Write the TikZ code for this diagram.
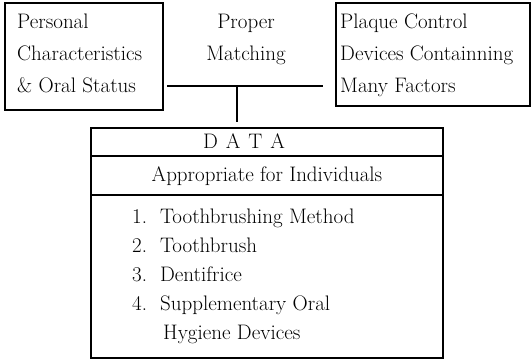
\documentclass[tikz,border=0pt]{standalone}
\begin{document}
\begin{tikzpicture}[x=1pt,y=-1pt,
  frame/.style={draw, line width=1.2pt, inner sep=0pt},
  conn/.style={draw, line width=1.2pt},
  lbl/.style={anchor=base west, inner sep=0pt, font=\fontsize{21}{21}\selectfont},
  clbl/.style={anchor=base, inner sep=0pt, font=\fontsize{21}{21}\selectfont}]
\useasboundingbox (0,0) rectangle (531,362);
% boxes
\node[frame, minimum width=158pt, minimum height=107pt] (pc) at (84,56.5) {};
\node[frame, minimum width=194pt, minimum height=103pt] (pl) at (433,54.5) {};
\node[frame, minimum width=352pt, minimum height=230pt] (data) at (267,243) {};
% left texts
\node[lbl] (t1) at (17,28) {Personal};
\node[lbl] (t2) at (17,60) {Characteristics};
\node[lbl] (t3) at (17,92) {\&\ Oral Status};
% middle
\node[clbl] (m1) at (246,28) {Proper};
\node[clbl] (m2) at (246,60) {Matching};
% right texts
\node[lbl] (r1) at (340,28) {Plaque Control};
\node[lbl] (r2) at (340,60) {Devices Containning};
\node[lbl] (r3) at (340,92) {Many Factors};
% connectors
\coordinate (hl) at (167,86);
\coordinate (hr) at (323,86);
\coordinate (vt) at (237,86);
\coordinate (vb) at (237,122);
\draw[conn] (hl) -- (hr);
\draw[conn] (vt) -- (vb);
% data rows
\coordinate (y1) at (0,156);
\coordinate (y2) at (0,195);
\draw[conn] (data.west |- y1) -- (data.east |- y1);
\draw[conn] (data.west |- y2) -- (data.east |- y2);
\node[clbl] (dt) at (244,148) {D\hspace{8pt}A\hspace{8pt}T\hspace{8pt}A};
\node[clbl] (ap) at (267,181) {Appropriate for Individuals};
\node[lbl] (i1) at (132,223) {1.\hspace{13pt}Toothbrushing Method};
\node[lbl] (i2) at (132,252) {2.\hspace{13pt}Toothbrush};
\node[lbl] (i3) at (132,281) {3.\hspace{13pt}Dentifrice};
\node[lbl] (i4) at (132,310) {4.\hspace{13pt}Supplementary Oral};
\node[lbl] (i5) at (163,339) {Hygiene Devices};
\end{tikzpicture}
\end{document}
